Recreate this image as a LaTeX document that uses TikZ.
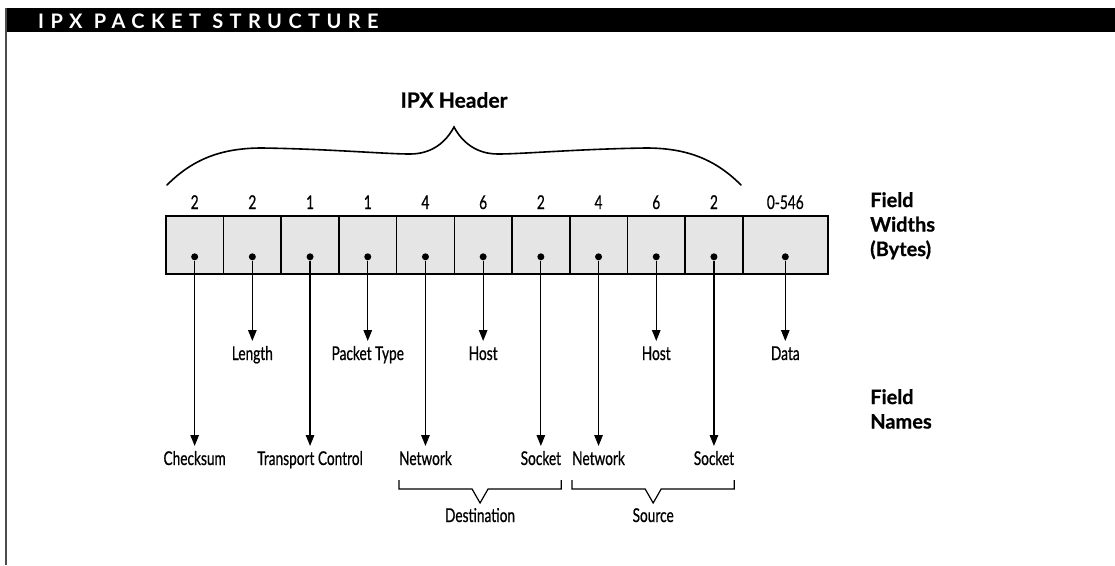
\documentclass[tikz,border=0pt]{standalone}
\usepackage{fontspec}
\setmainfont{Lato}[BoldFeatures={FakeBold=0.7}]
\newfontfamily\namefont[FakeStretch=0.72, FakeBold=0.7]{Lato}
\newfontfamily\titlefont[LetterSpace=32]{Lato}
\usetikzlibrary{arrows.meta,positioning,calc}

\begin{document}
\begin{tikzpicture}[
        x=1pt, y=-1pt,
        field/.style={draw, line width=1.6pt, fill=black!10, minimum width=57.7pt,
            minimum height=58pt, inner sep=0pt, anchor=north west},
        bytes/.style={font=\namefont\fontsize{19}{22}\selectfont, inner sep=0pt,
            anchor=base},
        dot/.style={circle, fill, inner sep=0pt, minimum size=7pt},
        fname/.style={font=\namefont\fontsize{19}{22}\selectfont, inner sep=0pt,
            outer ysep=6pt, text height=13pt, text depth=4pt, anchor=north},
        side/.style={font=\bfseries\fontsize{20}{24.5}\selectfont, align=left,
            inner sep=0pt, anchor=north west},
        arr/.style={line width=1.2pt, -{Triangle[width=8.5pt,length=11pt]}},
        bracket/.style={line width=1.2pt}
    ]
    \useasboundingbox (0,0) rectangle (1115,565);

    % Title bar and frame
    \fill[black] (5,8) rectangle (1115,32);
    \draw[line width=2pt, black!70] (6,8) -- (6,565);
    \node[text=white, anchor=base west, inner sep=0pt,
        font=\titlefont\bfseries\fontsize{20}{22}\selectfont] (title) at (38,28.5)
        {IPX PACKET STRUCTURE};

    % Header brace
    \node[font=\bfseries\fontsize{21}{24}\selectfont] (hdr) at (454,100) {IPX Header};
    \draw[line width=1.6pt, line cap=round]
        (167,185) .. controls (192,160) and (220,148) .. (262,148)
        .. controls (330,149) and (385,154) .. (410,154)
        .. controls (432,154) and (446,142) .. (454,127)
        .. controls (462,142) and (476,154) .. (498,154)
        .. controls (523,154) and (578,149) .. (646,148)
        .. controls (688,148) and (716,160) .. (741,185);

    % Packet fields
    \foreach \w [count=\i] in {2,2,1,1,4,6,2,4,6,2} {
        \node[field] (f\i) at ({165+(\i-1)*57.7},215) {};
        \node[bytes] (w\i) at ([yshift=6pt]f\i.north) {\w};
        \node[dot] (d\i) at ([yshift=-12pt]f\i.center) {};
    }
    \node[field, minimum width=85pt] (f11) at (742,215) {};
    \node[bytes] (w11) at ([yshift=6pt]f11.north) {0-546};
    \node[dot] (d11) at ([yshift=-12pt]f11.center) {};

    % Field names
    \foreach \i/\txt/\tip in {1/Checksum/446, 2/Length/341, 3/Transport Control/446,
            4/Packet Type/341, 5/Network/446, 6/Host/341, 7/Socket/446,
            8/Network/446, 9/Host/341, 10/Socket/446, 11/Data/341} {
        \node[fname] (n\i) at (d\i |- 0,\tip) {\txt};
        \draw[arr] (d\i) -- (n\i);
    }

    % Destination / Source groups
    \node[fname] (dst) at ($(n5.south west)!0.5!(n7.south east)+(0,28)$) {Destination};
    \node[fname] (src) at ($(n8.south west)!0.5!(n10.south east)+(0,28)$) {Source};
    \draw[bracket] ([yshift=-5pt]n5.south west) |- ($(dst.north)+(-8,-14)$)
        -- (dst.north) -- ($(dst.north)+(8,-14)$) -| ([yshift=-5pt]n7.south east);
    \draw[bracket] ([yshift=-5pt]n8.south west) |- ($(src.north)+(-8,-14)$)
        -- (src.north) -- ($(src.north)+(8,-14)$) -| ([yshift=-5pt]n10.south east);

    % Side captions
    \node[side] (widths) at (870,192) {Field\\Widths\\(Bytes)};
    \node[side] (names) at (870,389) {Field\\Names};

\end{tikzpicture}
\end{document}
